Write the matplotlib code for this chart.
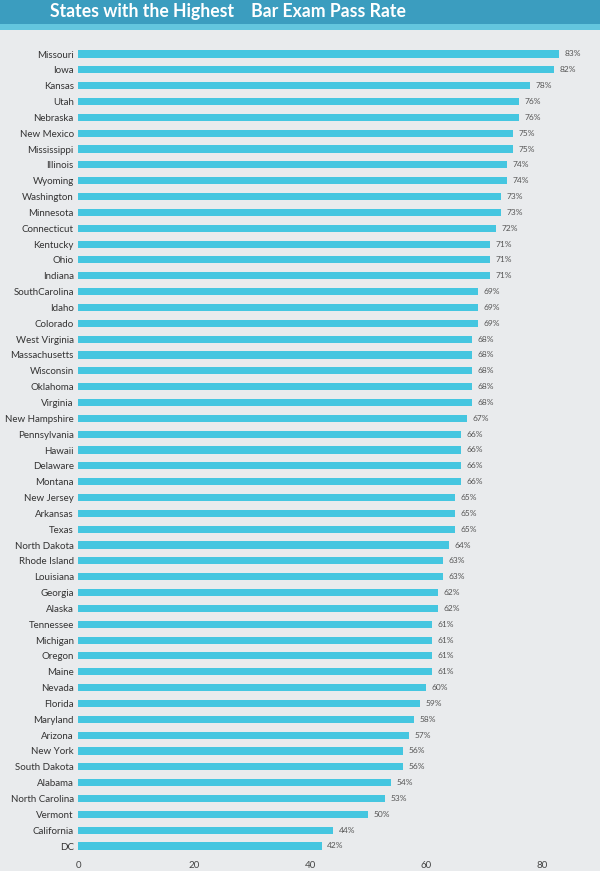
import matplotlib
matplotlib.use("Agg")
import matplotlib.pyplot as plt
from matplotlib.patches import Rectangle

states = ["Missouri", "Iowa", "Kansas", "Utah", "Nebraska", "New Mexico", "Mississippi",
          "Illinois", "Wyoming", "Washington", "Minnesota", "Connecticut", "Kentucky", "Ohio",
          "Indiana", "SouthCarolina", "Idaho", "Colorado", "West Virginia", "Massachusetts",
          "Wisconsin", "Oklahoma", "Virginia", "New Hampshire", "Pennsylvania", "Hawaii",
          "Delaware", "Montana", "New Jersey", "Arkansas", "Texas", "North Dakota",
          "Rhode Island", "Louisiana", "Georgia", "Alaska", "Tennessee", "Michigan", "Oregon",
          "Maine", "Nevada", "Florida", "Maryland", "Arizona", "New York", "South Dakota",
          "Alabama", "North Carolina", "Vermont", "California", "DC"]
pass_rates = [83, 82, 78, 76, 76, 75, 75, 74, 74, 73, 73, 72, 71, 71, 71, 69, 69, 69, 68, 68,
              68, 68, 68, 67, 66, 66, 66, 66, 65, 65, 65, 64, 63, 63, 62, 62, 61, 61, 61, 61,
              60, 59, 58, 57, 56, 56, 54, 53, 50, 44, 42]
x_ticks = [0, 20, 40, 60, 80]
title = "States with the Highest    Bar Exam Pass Rate"

plt.rcParams['font.family'] = ['Lato', 'DejaVu Sans']

W, H = 600, 871
fig = plt.figure(figsize=(W / 100, H / 100), dpi=100)
fig.patch.set_facecolor("#e9ebed")

# title banner
fig.patches.append(Rectangle((0, 1 - 24 / H), 1, 24 / H, transform=fig.transFigure,
                             facecolor="#3b9dbf", edgecolor="none", zorder=0))
fig.patches.append(Rectangle((0, 1 - 30 / H), 1, 6 / H, transform=fig.transFigure,
                             facecolor="#63c6de", edgecolor="none", zorder=0))
fig.text(50 / W, 1 - 12 / H, title, color="white", fontsize=12.7, fontweight="bold",
         va="center", ha="left")

n = len(states)
spacing = (846 - 54) / (n - 1)
top_px = 54 - spacing / 2
bot_px = 846 + spacing / 2
ax = fig.add_axes([78 / W, 1 - bot_px / H, 1 - 78 / W, (bot_px - top_px) / H])
ax.set_facecolor("none")
ypos = list(range(n))
ax.barh(ypos, pass_rates, height=0.45, color="#45c6e0", edgecolor="none")
ax.set_ylim(n - 0.5, -0.5)
ax.set_xlim(0, 90)
ax.set_yticks(ypos)
ax.set_yticklabels(states, fontsize=7, color="#333333")
ax.set_xticks(x_ticks)
ax.set_xticklabels([str(t) for t in x_ticks], fontsize=7, color="#444444")
ax.tick_params(length=0, pad=3)
ax.tick_params(axis="x", pad=5)
for s in ax.spines.values():
    s.set_visible(False)
for y, v in zip(ypos, pass_rates):
    ax.annotate(f"{v}%", (v, y), xytext=(4, 0), textcoords="offset points",
                va="center", ha="left", fontsize=6, color="#555555")

fig.savefig("out.png", dpi=100, facecolor=fig.get_facecolor())
